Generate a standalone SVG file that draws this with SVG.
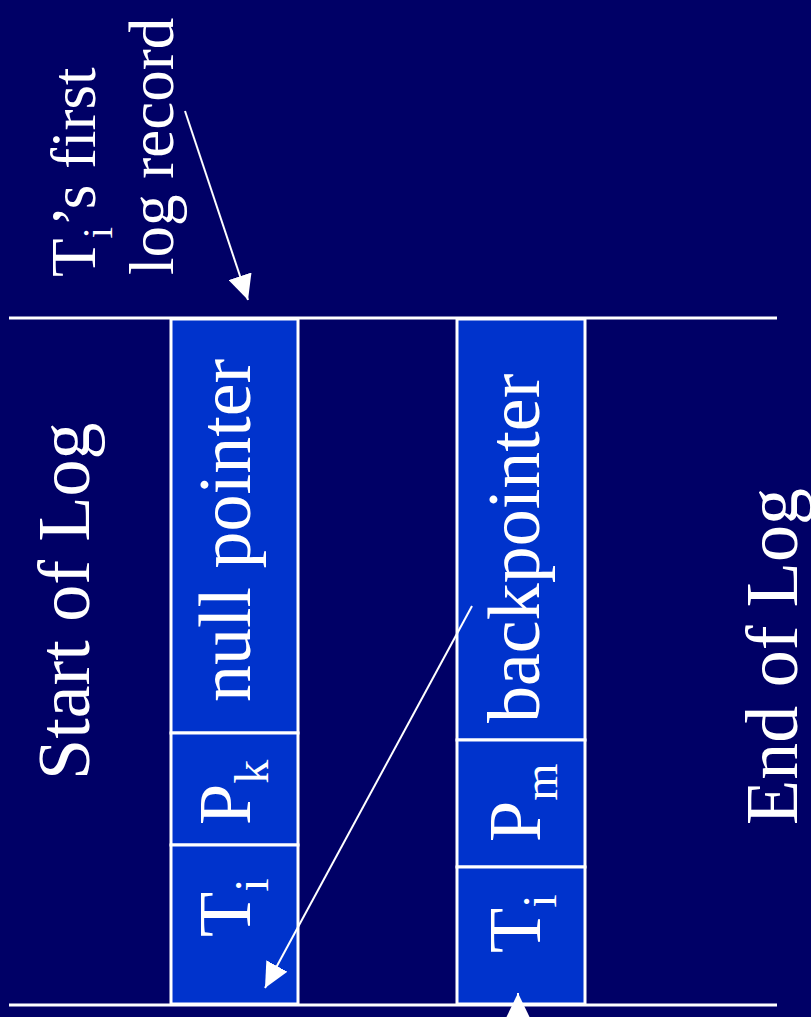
<svg xmlns="http://www.w3.org/2000/svg" width="811" height="1017" viewBox="0 0 811 1017">
  <style>
    .lbl { font-family: "Liberation Serif", "Times New Roman", serif; fill: #ffffff; }
    .big { font-size: 74px; }
    .mid { font-size: 63px; }
    .sub { font-size: 48px; }
    .subs { font-size: 42px; }
    .cell { fill: #0033cc; stroke: #ffffff; stroke-width: 3; }
    .rule { stroke: #ffffff; stroke-width: 3; fill: none; }
    .arrow { stroke: #ffffff; stroke-width: 2; fill: none; marker-end: url(#head); }
  </style>
  <defs>
    <marker id="head" viewBox="0 0 25 24" refX="25" refY="12" markerWidth="25" markerHeight="24" markerUnits="userSpaceOnUse" orient="auto">
      <path d="M0,0 L25,12 L0,24 Z" fill="#ffffff"/>
    </marker>
  </defs>

  <!-- background -->
  <rect x="0" y="0" width="811" height="1017" fill="#000066"/>

  <!-- log boundaries -->
  <g id="log-bounds">
    <line class="rule" x1="9" y1="318" x2="777" y2="318"/>
    <line class="rule" x1="9" y1="1005" x2="777" y2="1005"/>
  </g>

  <!-- first record: Ti | Pk | null pointer -->
  <g id="record-first">
    <rect class="cell" x="171" y="319" width="127" height="414"/>
    <rect class="cell" x="171" y="733" width="127" height="112"/>
    <rect class="cell" x="171" y="845" width="127" height="159"/>
    <g transform="translate(250,702) rotate(-90)">
      <text class="lbl big" x="0" y="0">null pointer</text>
    </g>
    <g transform="translate(250,825) rotate(-90)">
      <text class="lbl big" x="0" y="0">P<tspan class="sub" dy="18">k</tspan></text>
    </g>
    <g transform="translate(250,937) rotate(-90)">
      <text class="lbl big" x="0" y="0">T<tspan class="sub" dy="18">i</tspan></text>
    </g>
  </g>

  <!-- later record: Ti | Pm | backpointer -->
  <g id="record-later">
    <rect class="cell" x="457" y="319" width="128" height="421"/>
    <rect class="cell" x="457" y="740" width="128" height="127"/>
    <rect class="cell" x="457" y="867" width="128" height="137"/>
    <g transform="translate(539,723) rotate(-90)">
      <text class="lbl big" x="0" y="0">backpointer</text>
    </g>
    <g transform="translate(540,842) rotate(-90)">
      <text class="lbl big" x="0" y="0">P<tspan class="sub" dy="17">m</tspan></text>
    </g>
    <g transform="translate(540,953) rotate(-90)">
      <text class="lbl big" x="0" y="0">T<tspan class="sub" dy="16">i</tspan></text>
    </g>
  </g>

  <!-- side labels -->
  <g id="start-label" transform="translate(89,780) rotate(-90)">
    <text class="lbl big" x="0" y="0">Start of Log</text>
  </g>
  <g id="end-label" transform="translate(797,825) rotate(-90)">
    <text class="lbl big" x="0" y="0">End of Log</text>
  </g>
  <g id="first-record-label">
    <g transform="translate(95,277) rotate(-90)">
      <text class="lbl mid" x="0" y="0">T<tspan class="subs" dy="17">i</tspan><tspan dy="-17">’s first</tspan></text>
    </g>
    <g transform="translate(173,275) rotate(-90)">
      <text class="lbl mid" x="0" y="0">log record</text>
    </g>
  </g>

  <!-- connectors -->
  <g id="connectors">
    <line class="arrow" x1="185" y1="111" x2="248" y2="300"/>
    <line class="arrow" x1="472" y1="606" x2="265" y2="988"/>
    <line class="arrow" x1="518" y1="1045" x2="518" y2="993"/>
  </g>
</svg>
